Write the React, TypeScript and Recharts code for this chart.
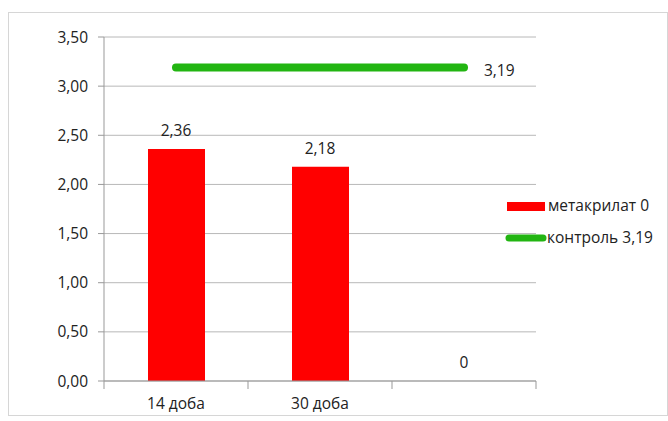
import React from "react";
import {
  ComposedChart,
  Bar,
  Line,
  XAxis,
  YAxis,
  CartesianGrid,
  LabelList,
} from "recharts";

const categories = ["14 доба", "30 доба", ""];
const metacrylateValues = [2.36, 2.18, 0];
const controlValues = [3.19, 3.19, 3.19];
const yTicks = [0, 0.5, 1, 1.5, 2, 2.5, 3, 3.5];
const seriesNames = ["метакрилат 0", "контроль 3,19"];

const RED = "#FF0000";
const GREEN = "#22B512";
const FONT = "'Open Sans', sans-serif";
const FS = 15.5;

const data = categories.map((c, i) => ({
  name: c,
  met: metacrylateValues[i],
  ctrl: controlValues[i],
}));

const fmt = (v: number) => v.toFixed(2).replace(".", ",");
const fmtLabel = (v: any) => String(v).replace(".", ",");

const XTick = (props: any) => {
  const { x, y, payload, index } = props;
  const off = payload.offset || 0;
  const last = index === categories.length - 1;
  return (
    <g>
      <line x1={x - off} y1={y - 8} x2={x - off} y2={y} stroke="#999" />
      {last && <line x1={x + off} y1={y - 8} x2={x + off} y2={y} stroke="#999" />}
      <text x={x} y={y + 20} textAnchor="middle" fontSize={FS} fontFamily={FONT} fill="#222">
        {payload.value}
      </text>
    </g>
  );
};

const BarValueLabel = (props: any) => {
  const { x, y, value } = props;
  return (
    <text x={x} y={y - 13} textAnchor="middle" fontSize={FS} fontFamily={FONT} fill="#222">
      {fmtLabel(value)}
    </text>
  );
};

const CtrlLabel = (props: any) => {
  const { x, y, index, value } = props;
  if (index !== categories.length - 1) return null;
  return (
    <text x={x + 20} y={y + 4} dominantBaseline="middle" fontSize={FS} fontFamily={FONT} fill="#222">
      {fmtLabel(value)}
    </text>
  );
};

const LegendBox = () => (
  <svg width={668} height={421} style={{ position: "absolute", left: 0, top: 0, pointerEvents: "none" }}>
    <rect x={507} y={202} width={38} height={9} fill={RED} />
    <text x={548} y={207} dominantBaseline="middle" fontSize={FS} fontFamily={FONT} fill="#222">
      {seriesNames[0]}
    </text>
    <line x1={509} y1={238} x2={543} y2={238} stroke={GREEN} strokeWidth={7} strokeLinecap="round" />
    <text x={547} y={239} dominantBaseline="middle" fontSize={FS} fontFamily={FONT} fill="#222">
      {seriesNames[1]}
    </text>
  </svg>
);

export default function App() {
  return (
    <div style={{ position: "absolute", left: 0, top: 0, width: 668, height: 421, background: "#fff" }}>
      <div
        style={{
          position: "absolute",
          left: 8,
          top: 12,
          width: 658,
          height: 402,
          border: "1px solid #d6d6d6",
        }}
      />
      <ComposedChart
        width={668}
        height={421}
        data={data}
        margin={{ top: 37, right: 132, bottom: 0, left: 0 }}
        style={{ position: "absolute", left: 0, top: 0 }}
      >
        <CartesianGrid horizontal vertical={false} stroke="#b8b8b8" />
        <XAxis
          dataKey="name"
          height={40}
          axisLine={{ stroke: "#999" }}
          tickLine={false}
          tick={<XTick />}
          interval={0}
        />
        <YAxis
          width={104}
          domain={[0, 3.5]}
          ticks={yTicks}
          tickFormatter={fmt}
          axisLine={{ stroke: "#999" }}
          tickLine={{ stroke: "#999" }}
          tickSize={6}
          tickMargin={10}
          tick={{ fontSize: FS, fontFamily: FONT, fill: "#222" }}
        />
        <Bar dataKey="met" fill={RED} barSize={57} isAnimationActive={false} />
        <Line
          dataKey="met"
          stroke="none"
          dot={false}
          activeDot={false}
          legendType="none"
          isAnimationActive={false}
        >
          <LabelList dataKey="met" content={<BarValueLabel />} />
        </Line>
        <Line
          dataKey="ctrl"
          stroke={GREEN}
          strokeWidth={8}
          strokeLinecap="round"
          dot={false}
          activeDot={false}
          isAnimationActive={false}
        >
          <LabelList dataKey="ctrl" content={<CtrlLabel />} />
        </Line>
      </ComposedChart>
      <LegendBox />
    </div>
  );
}
